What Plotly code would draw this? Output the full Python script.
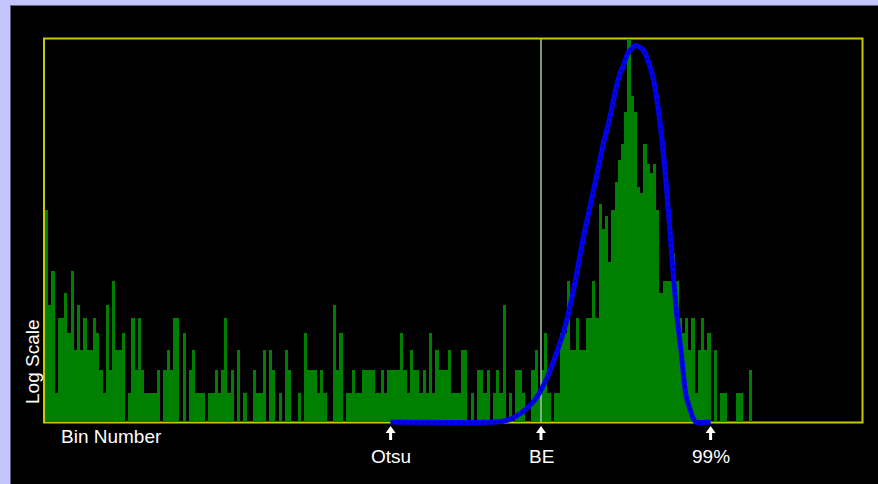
import numpy as np
import plotly.graph_objects as go

# ---- histogram: counts per bin (256 bins, 0 = empty) ----
counts = [
    21, 10, 13, 5, 9, 9, 11, 8, 13, 7, 10, 7, 9, 7, 7, 9, 8, 6, 5, 10,
    6, 12, 7, 7, 8, 0, 5, 9, 6, 9, 6, 5, 5, 5, 5, 6, 0, 6, 7, 6,
    9, 9, 0, 8, 0, 6, 7, 5, 5, 5, 0, 5, 5, 6, 5, 6, 9, 5, 6, 0,
    7, 0, 5, 0, 0, 6, 5, 5, 7, 0, 7, 6, 0, 5, 0, 7, 6, 0, 0, 5,
    0, 8, 6, 6, 6, 5, 6, 5, 0, 0, 10, 6, 8, 0, 5, 5, 6, 5, 5, 6,
    6, 6, 6, 5, 5, 6, 5, 6, 6, 6, 6, 8, 6, 5, 7, 6, 6, 5, 6, 5,
    8, 5, 7, 6, 6, 6, 7, 5, 5, 5, 7, 7, 0, 5, 0, 6, 6, 5, 6, 0,
    5, 6, 5, 10, 0, 5, 0, 6, 6, 5, 0, 0, 6, 7, 5, 6, 8, 5, 0, 5,
    5, 8, 8, 12, 7, 7, 9, 7, 7, 9, 9, 12, 9, 22, 18, 20, 14, 21, 26, 31,
    35, 45, 90, 51, 45, 25, 24, 35, 30, 28, 30, 21, 11, 12, 12, 12, 15, 12, 9, 8,
    9, 7, 9, 5, 7, 9, 7, 8, 0, 7, 0, 5, 5, 0, 0, 0, 5, 5, 0, 0,
    6,
]
counts = counts + [0] * (256 - len(counts))

# log-scale display window (counts)
count_floor = 4.0
count_ceiling = 79.7

# fitted distribution curve, sampled (bin, count)
fit_bins = [108, 140.5, 144.7, 148.8, 153.1, 156.3, 159.4, 162.5, 165.6, 168.1,
            171.3, 174.4, 176.6, 177.5, 179.7, 180.6, 182.2, 184.5, 186.8, 188.0,
            190.1, 192.2, 193.75, 195.3, 197.2, 198.8, 200.3, 202.5, 203.4, 208]
fit_counts = [4.0, 4.0, 4.06, 4.29, 4.75, 5.47, 6.64, 8.40, 11.85, 16.6,
              24.1, 34.8, 43.4, 48.7, 61.1, 64.0, 71.5, 75.7, 73.5, 69.4,
              58.3, 41.4, 28.6, 17.8, 9.75, 6.91, 4.94, 4.13, 4.0, 4.0]

# threshold markers below the axis
marker_names = ["Otsu", "BE", "99%"]
marker_bins = [108, 155, 208]
be_bin = 155

# ---- page geometry (pixels) ----
W, H = 878, 484
L, R, T, B = 44, 14, 39, 56
PW, PH = W - L - R, H - T - B
BIN_PX = 3.2


def px(x):
    return (x - L) / PW


def py(y):
    return (H - B - y) / PH


lg_floor = np.log10(count_floor)
lg_top = np.log10(count_ceiling)
lg_bottom = lg_floor - (lg_top - lg_floor) * 6 / 383.0

x0 = -(45 - L) / BIN_PX
x1 = x0 + PW / BIN_PX

bins = np.arange(256) + 0.5
c = np.array(counts, dtype=float)
shown = c > count_floor
bar_x = bins[shown]
bar_len = c[shown] - count_floor

fig = go.Figure()

fig.add_trace(go.Bar(
    x=bar_x, y=bar_len, base=[count_floor] * len(bar_x), width=1.0,
    marker=dict(color="#008000", line=dict(width=0)),
    hoverinfo="skip", showlegend=False,
))

# BE threshold line
fig.add_trace(go.Scatter(
    x=[be_bin, be_bin], y=[count_floor, count_ceiling], mode="lines",
    line=dict(color="#a8c4a8", width=1.5), hoverinfo="skip", showlegend=False,
))

# fitted curve: thick blue with a darker beaded core
fig.add_trace(go.Scatter(
    x=fit_bins, y=fit_counts, mode="lines",
    line=dict(color="#0000ff", width=5, shape="spline", smoothing=0.6),
    hoverinfo="skip", showlegend=False,
))
fig.add_trace(go.Scatter(
    x=fit_bins, y=fit_counts, mode="lines",
    line=dict(color="#000090", width=1.5, shape="spline", smoothing=0.6, dash="dot"),
    hoverinfo="skip", showlegend=False,
))

shapes = []
lav = "#c4c4ff"
# lavender window edges
shapes.append(dict(type="rect", xref="paper", yref="paper",
                   x0=px(0), x1=px(W), y0=py(0), y1=py(5.5),
                   fillcolor=lav, line=dict(width=0), layer="below"))
shapes.append(dict(type="rect", xref="paper", yref="paper",
                   x0=px(0), x1=px(10.5), y0=py(H), y1=py(0),
                   fillcolor=lav, line=dict(width=0), layer="below"))
shapes.append(dict(type="line", xref="paper", yref="paper",
                   x0=px(10.5), x1=px(W), y0=py(5.5), y1=py(5.5),
                   line=dict(color="#606080", width=1), layer="below"))
shapes.append(dict(type="line", xref="paper", yref="paper",
                   x0=px(10.5), x1=px(10.5), y0=py(H), y1=py(5.5),
                   line=dict(color="#606080", width=1), layer="below"))
# yellow plot frame
shapes.append(dict(type="rect", xref="paper", yref="paper",
                   x0=px(44), x1=px(862.5), y0=py(422.5), y1=py(38.5),
                   line=dict(color="#c8c800", width=2), layer="below"))


# white up-arrows under the axis (x in bins, y in paper)
def arrow_path(b):
    hw, sw = 5.0 / BIN_PX, 1.5 / BIN_PX
    tip, neck, tail = py(426), py(433), py(440)
    pts = [(b, tip), (b + hw, neck), (b + sw, neck), (b + sw, tail),
           (b - sw, tail), (b - sw, neck), (b - hw, neck)]
    return "M " + " L ".join(f"{x:.4f},{y:.5f}" for x, y in pts) + " Z"


for b in marker_bins:
    shapes.append(dict(type="path", xref="x", yref="paper", path=arrow_path(b),
                       fillcolor="white", line=dict(width=0), layer="above"))

annotations = []
font = dict(family="Liberation Sans, Arial, sans-serif", color="white", size=19)
annotations.append(dict(text="Bin Number", xref="paper", yref="paper",
                        x=px(59), y=py(437), xanchor="left", yanchor="middle",
                        showarrow=False, font=font))
annotations.append(dict(text="Log Scale", xref="paper", yref="paper",
                        x=px(32), y=py(362), xanchor="center", yanchor="middle",
                        textangle=-90, showarrow=False, font=font))
for name, b in zip(marker_names, marker_bins):
    annotations.append(dict(text=name, x=b, xref="x", y=py(456), yref="paper",
                            xanchor="center", yanchor="middle", showarrow=False,
                            font=font))

fig.update_layout(
    width=W, height=H,
    margin=dict(l=L, r=R, t=T, b=B, pad=0),
    paper_bgcolor="black", plot_bgcolor="black",
    bargap=0, barmode="overlay",
    xaxis=dict(range=[x0, x1], showgrid=False, zeroline=False, showticklabels=False,
               ticks="", showline=False, fixedrange=True),
    yaxis=dict(type="log", range=[lg_bottom, lg_top], showgrid=False, zeroline=False,
               showticklabels=False, ticks="", showline=False, fixedrange=True),
    shapes=shapes, annotations=annotations,
)

fig.write_html("out.html")
